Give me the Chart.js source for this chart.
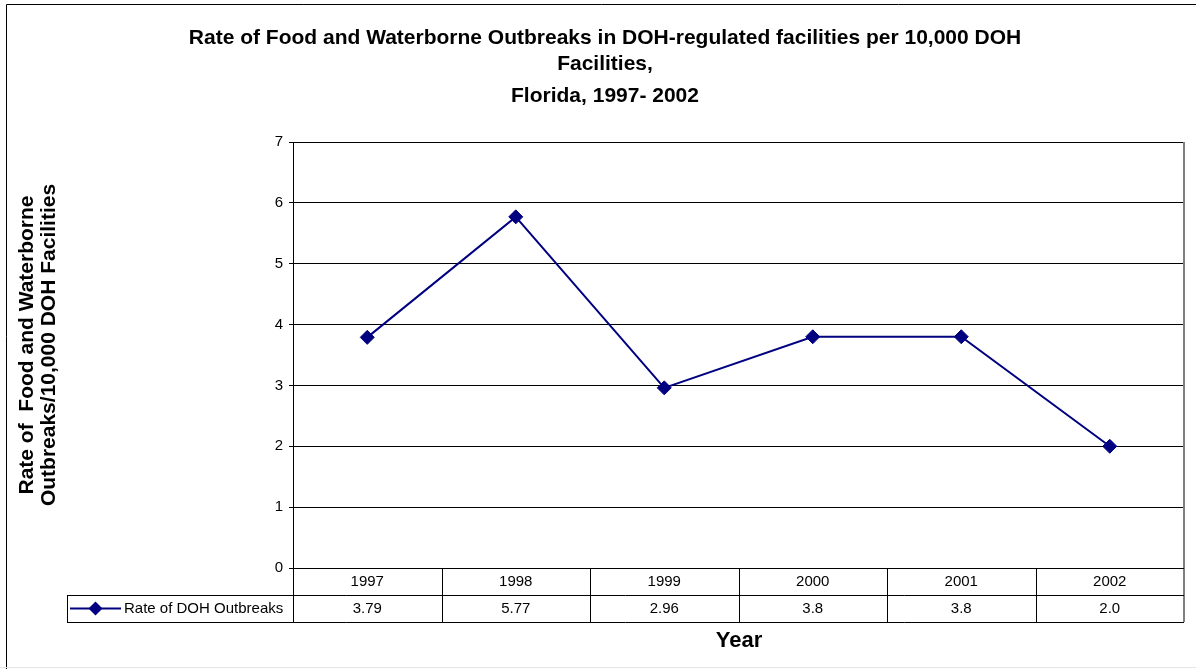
<!DOCTYPE html>
<html>
<head>
<meta charset="utf-8">
<script src="https://cdn.jsdelivr.net/npm/chart.js@4"></script>
<style>
  html, body { margin: 0; padding: 0; background: #fff; }
  canvas { display: block; }
</style>
</head>
<body>
<canvas id="chart" width="1196" height="669"></canvas>
<script>
const years = ['1997', '1998', '1999', '2000', '2001', '2002'];
const rates = [3.79, 5.77, 2.96, 3.8, 3.8, 2.0];
const rateLabels = ['3.79', '5.77', '2.96', '3.8', '3.8', '2.0'];
const yMin = 0;
const yMax = 7;
const yStep = 1;
const seriesName = 'Rate of DOH Outbreaks';
const titleLines = [
  'Rate of Food and Waterborne Outbreaks in DOH-regulated facilities per 10,000 DOH',
  'Facilities,',
  'Florida, 1997- 2002'
];
const yTitleLines = ['Rate of  Food and Waterborne', 'Outbreaks/10,000 DOH Facilities'];
const xTitle = 'Year';

const FONT = 'Arial, "Liberation Sans", sans-serif';
const NAVY = '#000080';

// frame, titles and the data table under the plot
const decorations = {
  id: 'decorations',
  afterDraw(chart) {
    const ctx = chart.ctx;
    const area = chart.chartArea;
    const xs = chart.scales.x;
    const colW = (area.right - area.left) / years.length;
    const row1 = area.bottom, row2 = row1 + 27, row3 = row2 + 27;
    const legendLeft = 67;

    ctx.save();
    // outer frame
    ctx.strokeStyle = '#000';
    ctx.lineWidth = 1;
    ctx.beginPath();
    ctx.moveTo(6.5, 669); ctx.lineTo(6.5, 4.5); ctx.lineTo(1196, 4.5);
    ctx.stroke();
    ctx.strokeStyle = '#e6e6e6';
    ctx.beginPath();
    ctx.moveTo(0, 667.5); ctx.lineTo(1196, 667.5);
    ctx.stroke();

    // plot right border
    ctx.strokeStyle = '#808080';
    ctx.lineWidth = 2;
    ctx.beginPath();
    ctx.moveTo(area.right, area.top); ctx.lineTo(area.right, row3);
    ctx.stroke();

    // table grid
    ctx.strokeStyle = '#000';
    ctx.lineWidth = 1;
    ctx.beginPath();
    ctx.moveTo(area.left, row1 + 0.5); ctx.lineTo(area.right, row1 + 0.5);
    ctx.moveTo(legendLeft, row2 + 0.5); ctx.lineTo(area.right, row2 + 0.5);
    ctx.moveTo(legendLeft, row3 + 0.5); ctx.lineTo(area.right, row3 + 0.5);
    ctx.moveTo(legendLeft + 0.5, row2); ctx.lineTo(legendLeft + 0.5, row3);
    years.forEach((y, i) => {
      const bx = Math.round(xs.getPixelForValue(i) - colW / 2) + 0.5;
      ctx.moveTo(bx, row1); ctx.lineTo(bx, row3);
    });
    ctx.stroke();

    // table text
    ctx.fillStyle = '#000';
    ctx.font = '15px ' + FONT;
    ctx.textAlign = 'center';
    ctx.textBaseline = 'middle';
    years.forEach((y, i) => {
      const cx = xs.getPixelForValue(i);
      ctx.fillText(y, cx, row1 + 14);
      ctx.fillText(rateLabels[i], cx, row2 + 14);
    });

    // legend key
    const ky = row2 + 13.5;
    ctx.strokeStyle = NAVY;
    ctx.lineWidth = 2;
    ctx.beginPath();
    ctx.moveTo(70, ky); ctx.lineTo(121, ky);
    ctx.stroke();
    ctx.fillStyle = NAVY;
    ctx.beginPath();
    ctx.moveTo(95.5, ky - 7); ctx.lineTo(102.5, ky); ctx.lineTo(95.5, ky + 7); ctx.lineTo(88.5, ky);
    ctx.closePath();
    ctx.fill();
    ctx.fillStyle = '#000';
    ctx.textAlign = 'left';
    ctx.fillText(seriesName, 124, row2 + 14);

    // titles
    ctx.font = 'bold 21px ' + FONT;
    ctx.textAlign = 'center';
    ctx.textBaseline = 'alphabetic';
    ctx.fillText(titleLines[0], 605, 44);
    ctx.fillText(titleLines[1], 605, 70);
    ctx.fillText(titleLines[2], 605, 102);

    ctx.font = 'bold 22px ' + FONT;
    ctx.textBaseline = 'middle';
    ctx.fillText(xTitle, 739, 641);

    ctx.font = 'bold 21px ' + FONT;
    ctx.translate(0, 345);
    ctx.rotate(-Math.PI / 2);
    ctx.textBaseline = 'alphabetic';
    ctx.fillText(yTitleLines[0], 0, 33);
    ctx.fillText(yTitleLines[1], 0, 55);
    ctx.restore();
  }
};

new Chart(document.getElementById('chart'), {
  type: 'line',
  data: {
    labels: years,
    datasets: [{
      label: seriesName,
      data: rates,
      borderColor: NAVY,
      backgroundColor: NAVY,
      borderWidth: 2,
      pointStyle: 'rectRot',
      pointRadius: 7,
      pointBackgroundColor: NAVY,
      pointBorderColor: NAVY,
      pointBorderWidth: 1,
      tension: 0
    }]
  },
  options: {
    responsive: false,
    animation: false,
    layout: { padding: { top: 142, right: 12, left: 0, bottom: 0 } },
    plugins: {
      legend: { display: false },
      title: { display: false },
      tooltip: { enabled: false }
    },
    scales: {
      x: {
        type: 'category',
        offset: true,
        grid: { display: false },
        border: { display: false },
        ticks: { display: false },
        afterFit: s => { s.height = 101; }
      },
      y: {
        min: yMin,
        max: yMax,
        ticks: {
          stepSize: yStep,
          color: '#000',
          font: { family: FONT, size: 15 },
          padding: 6
        },
        grid: { color: '#000', lineWidth: 1, tickLength: 4 },
        border: { color: '#000', width: 1 },
        afterFit: s => { s.width = 293; }
      }
    }
  },
  plugins: [decorations]
});
</script>
</body>
</html>
